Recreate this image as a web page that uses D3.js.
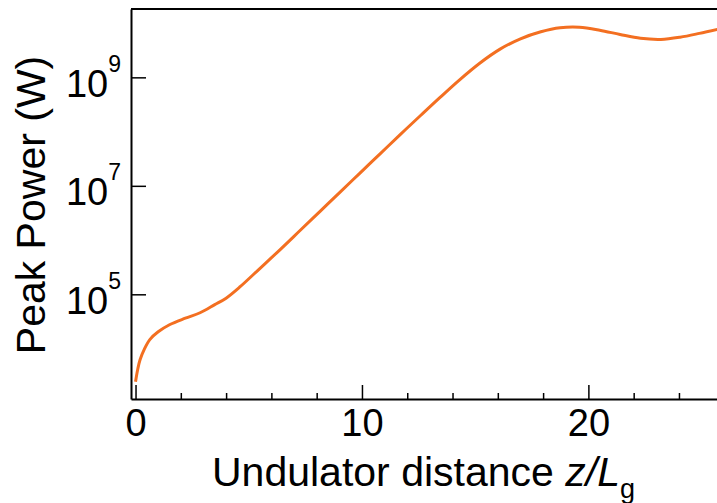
<!DOCTYPE html>
<html>
<head>
<meta charset="utf-8">
<script src="https://cdn.jsdelivr.net/npm/d3@7"></script>
<style>
  body { margin: 0; background: #fff; }
  svg { display: block; font-family: "Liberation Sans", Arial, sans-serif; }
</style>
</head>
<body>
<div id="plot-container"></div>
<script>
// Undulator distance z/Lg and peak power (W)
const zLg = [0, 0.1, 0.2, 0.4, 0.64, 1.0, 1.5, 2.2, 2.85, 3.5, 4.0, 4.62, 5.5, 6.4, 7.3, 8.15,
  9.0, 9.9, 10.8, 11.7, 12.6, 13.45, 14.3, 15.2, 16.1, 17.0, 17.9, 18.75, 19.6, 20.5, 21.4,
  22.3, 23.2, 24.05, 24.9, 25.7];
const peakPower = [2.45e3, 4.2e3, 6.2e3, 1.0e4, 1.48e4, 2.04e4, 2.75e4, 3.63e4, 4.57e4, 6.46e4,
  8.5e4, 1.38e5, 3.02e5, 6.76e5, 1.55e6, 3.39e6, 7.41e6, 1.7e7, 3.89e7, 8.91e7, 2.0e8, 4.27e8,
  8.91e8, 1.82e9, 3.31e9, 5.13e9, 6.92e9, 8.22e9, 8.41e9, 7.41e9, 6.17e9, 5.25e9, 5.01e9,
  5.5e9, 6.46e9, 7.67e9];

const xMajorTicks = [0, 10, 20];
const xMinorTicks = [2, 4, 6, 8, 12, 14, 16, 18, 22, 24];
const yTickExponents = [5, 7, 9];

const W = 717, H = 503;
const plot = { left: 131, top: 9, right: 717, bottom: 399 };

const svg = d3.select("#plot-container")
    .append("svg")
    .attr("width", W)
    .attr("height", H);

const x = d3.scaleLinear()
    .domain([-0.2, 25.68])
    .range([plot.left, plot.right]);

const y = d3.scaleLog()
    .domain([Math.pow(10, 3.07), Math.pow(10, 10.26)])
    .range([plot.bottom, plot.top]);

// clip for the curve
svg.append("clipPath")
    .attr("id", "clip")
    .append("rect")
    .attr("x", plot.left)
    .attr("y", plot.top)
    .attr("width", plot.right - plot.left)
    .attr("height", plot.bottom - plot.top);

const line = d3.line()
    .x((d, i) => x(zLg[i]))
    .y(d => y(d))
    .curve(d3.curveCatmullRom.alpha(0.5));

svg.append("path")
    .datum(peakPower)
    .attr("clip-path", "url(#clip)")
    .attr("fill", "none")
    .attr("stroke", "#f36f21")
    .attr("stroke-width", 3)
    .attr("d", line);

// minor x ticks
svg.append("g")
    .attr("transform", `translate(0,${plot.bottom})`)
    .call(d3.axisBottom(x).tickValues(xMinorTicks).tickSize(-6).tickFormat(""))
    .call(g => g.select(".domain").remove())
    .call(g => g.selectAll("line").attr("stroke", "#000").attr("stroke-width", 1.5));

// major x ticks
const xAxis = svg.append("g")
    .attr("transform", `translate(0,${plot.bottom})`)
    .call(d3.axisBottom(x)
        .tickValues(xMajorTicks)
        .tickSizeInner(-14)
        .tickSizeOuter(0)
        .tickPadding(10)
        .tickFormat(d3.format("d")));

xAxis.select(".domain").attr("stroke", "#000").attr("stroke-width", 2);
xAxis.selectAll(".tick line").attr("stroke", "#000").attr("stroke-width", 1.5);
xAxis.selectAll(".tick text")
    .attr("fill", "#000")
    .style("font-size", "38px")
    .style("font-family", "'Liberation Sans', Arial, sans-serif");

// y axis (log, labels as 10^n)
const yAxis = svg.append("g")
    .attr("transform", `translate(${plot.left},0)`)
    .call(d3.axisLeft(y)
        .tickValues(yTickExponents.map(e => Math.pow(10, e)))
        .tickSizeInner(-15)
        .tickSizeOuter(0)
        .tickPadding(10)
        .tickFormat(""));

yAxis.select(".domain").attr("stroke", "#000").attr("stroke-width", 2);
yAxis.selectAll(".tick line").attr("stroke", "#000").attr("stroke-width", 1.5);
yAxis.selectAll(".tick text")
    .attr("fill", "#000")
    .attr("dy", 19)
    .style("font-family", "'Liberation Sans', Arial, sans-serif")
    .each(function(d) {
        const t = d3.select(this);
        t.append("tspan").style("font-size", "38px").text("10");
        t.append("tspan")
            .style("font-size", "23px")
            .attr("dy", -25)
            .text(Math.round(Math.log10(d)));
    });

// top frame line
svg.append("line")
    .attr("x1", plot.left)
    .attr("x2", plot.right)
    .attr("y1", plot.top)
    .attr("y2", plot.top)
    .attr("stroke", "#000")
    .attr("stroke-width", 2);

// axis labels
const xLabel = svg.append("text")
    .attr("x", 212)
    .attr("y", 486)
    .attr("fill", "#000")
    .style("font-size", "41px");
xLabel.append("tspan").text("Undulator distance ");
xLabel.append("tspan").style("font-style", "italic").text("z/L");
xLabel.append("tspan").style("font-size", "27px").attr("dy", 12).text("g");

svg.append("text")
    .attr("transform", "translate(45,205) rotate(-90)")
    .attr("text-anchor", "middle")
    .attr("fill", "#000")
    .style("font-size", "41px")
    .text("Peak Power (W)");
</script>
</body>
</html>
